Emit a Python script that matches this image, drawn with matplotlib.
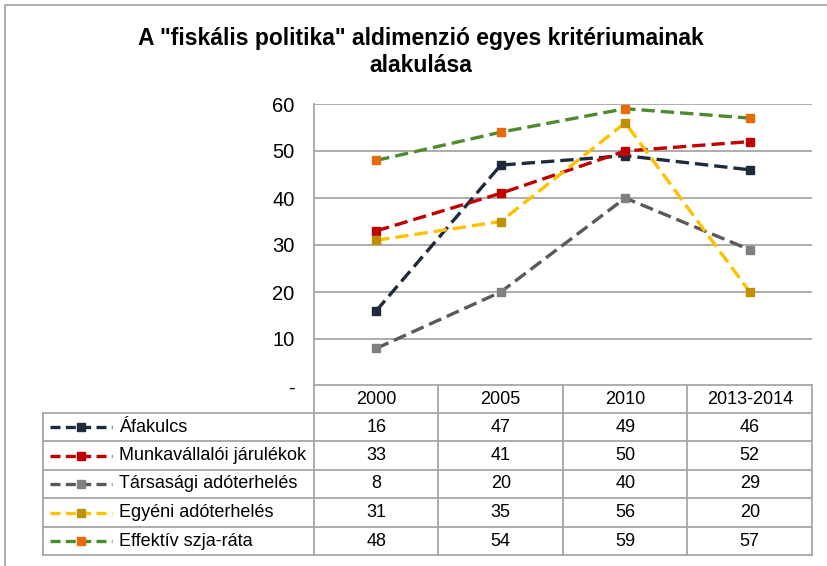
import numpy as np
import matplotlib; matplotlib.use("Agg")
import matplotlib.pyplot as plt
from matplotlib.lines import Line2D

plt.rcParams["font.family"] = ["Liberation Sans", "DejaVu Sans"]

years = ["2000", "2005", "2010", "2013-2014"]
names = ["Áfakulcs", "Munkavállalói járulékok", "Társasági adóterhelés",
         "Egyéni adóterhelés", "Effektív szja-ráta"]
afakulcs = [16, 47, 49, 46]
munkavallaloi = [33, 41, 50, 52]
tarsasagi = [8, 20, 40, 29]
egyeni = [31, 35, 56, 20]
effektiv = [48, 54, 59, 57]
series = [afakulcs, munkavallaloi, tarsasagi, egyeni, effektiv]
line_cols = ["#1F2B3C", "#C00000", "#595959", "#FFC000", "#4E8A2E"]
mark_cols = ["#1F2B3C", "#C00000", "#808080", "#BF9000", "#E46C0A"]
yticks = [0, 10, 20, 30, 40, 50, 60]
ytick_labels = ["-", "10", "20", "30", "40", "50", "60"]

W, H = 828, 566
fig = plt.figure(figsize=(W/100, H/100), dpi=100)

def fx(x): return x / W
def fy(y): return 1 - y / H

GRID = "#A6A6A6"
# chart border (top/left visible)
fig.add_artist(Line2D([fx(5), fx(5), fx(840)], [fy(570), fy(5), fy(5)],
                      transform=fig.transFigure, color="#A0A0A0", lw=1.2))

# title
fig.text(fx(421), fy(38), 'A "fiskális politika" aldimenzió egyes kritériumainak',
         ha="center", va="center", fontsize=16.5, fontweight="bold")
fig.text(fx(421), fy(65), "alakulása", ha="center", va="center",
         fontsize=16.5, fontweight="bold")

# plot area
L, R, T, B = 314, 812, 104, 386
ax = fig.add_axes([fx(L), fy(B), fx(R) - fx(L), fy(T) - fy(B)])
ax.set_xlim(-0.5, len(years) - 0.5)
ax.set_ylim(0, 60)
ax.set_yticks(yticks)
ax.set_yticklabels(ytick_labels, fontsize=14.5)
ax.set_xticks([])
ax.tick_params(axis="y", length=0, pad=14)
for s in ["top", "right", "bottom"]:
    ax.spines[s].set_visible(False)
ax.spines["left"].set_color(GRID)
ax.spines["left"].set_linewidth(1.3)
for v in yticks[1:]:
    ax.axhline(v, color=GRID, lw=1.3, zorder=0)

x = np.arange(len(years))
for vals, lc, mc in zip(series, line_cols, mark_cols):
    ax.plot(x, vals, color=lc, lw=2.4, dashes=(4.0, 1.8), marker="s", ms=5.5,
            mfc=mc, mec=mc, zorder=3, clip_on=False)

# data table
rows = [385, 413, 441, 470, 498, 527, 555]
col_w = (R - L) / len(years)
cols = [L + i * col_w for i in range(len(years) + 1)]
TL = 43

def hline(x0, x1, y):
    fig.add_artist(Line2D([fx(x0), fx(x1)], [fy(y), fy(y)],
                          transform=fig.transFigure, color=GRID, lw=1.3))

def vline(xx, y0, y1):
    fig.add_artist(Line2D([fx(xx), fx(xx)], [fy(y0), fy(y1)],
                          transform=fig.transFigure, color=GRID, lw=1.3))

hline(L, R, rows[0])
for y in rows[1:]:
    hline(TL, R, y)
for xx in cols:
    vline(xx, rows[0], rows[-1])
vline(TL, rows[1], rows[-1])

for i, yr in enumerate(years):
    fig.text(fx((cols[i] + cols[i+1]) / 2), fy((rows[0] + rows[1]) / 2), yr,
             ha="center", va="center", fontsize=13)

for r, (nm, vals, lc, mc) in enumerate(zip(names, series, line_cols, mark_cols)):
    yc = (rows[r+1] + rows[r+2]) / 2
    fig.add_artist(Line2D([fx(50), fx(81), fx(112)], [fy(yc)] * 3,
                          transform=fig.transFigure, color=lc, lw=2.4,
                          dashes=(3.0, 1.6), marker="s", ms=5.5, markevery=[1],
                          mfc=mc, mec=mc))
    fig.text(fx(119), fy(yc), nm, ha="left", va="center", fontsize=13)
    for i, v in enumerate(vals):
        fig.text(fx((cols[i] + cols[i+1]) / 2), fy(yc), str(v),
                 ha="center", va="center", fontsize=13)

fig.savefig("out.png", dpi=100)
